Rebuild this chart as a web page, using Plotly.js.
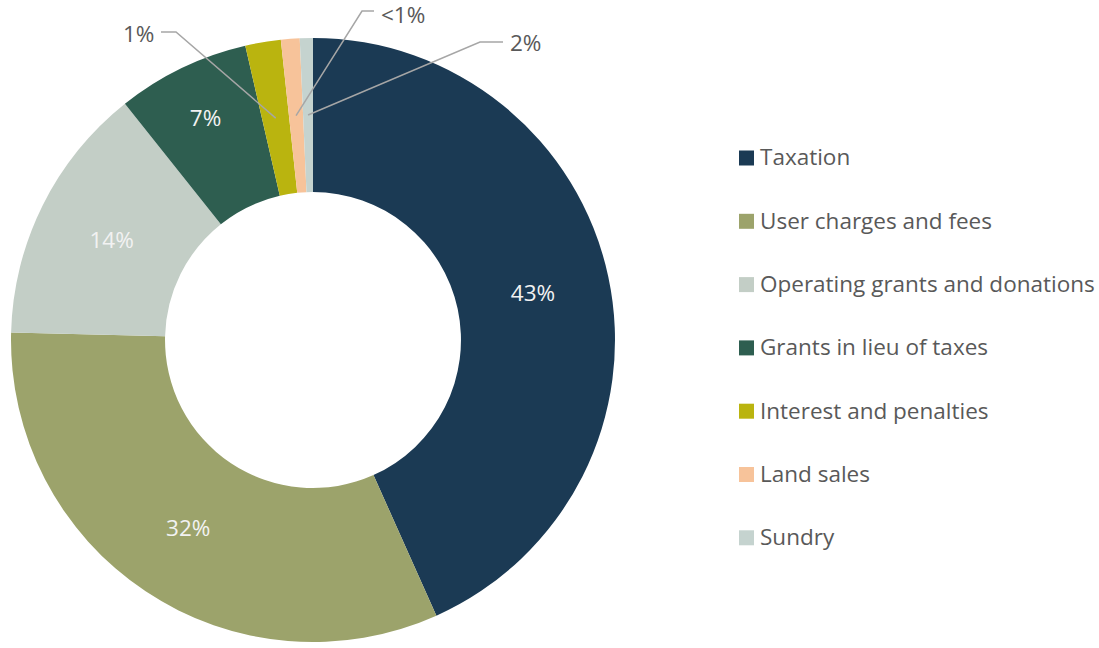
<!DOCTYPE html>
<html>
<head>
<meta charset="utf-8">
<script src="https://cdn.plot.ly/plotly-3.0.1.min.js"></script>
<style>html,body{margin:0;padding:0;background:#fff;}#chart{width:1099px;height:648px;}</style>
</head>
<body>
<div id="chart"></div>
<script>
// ---- data ----
const labels = ['Taxation', 'User charges and fees', 'Operating grants and donations', 'Grants in lieu of taxes', 'Interest and penalties', 'Land sales', 'Sundry'];
const values = [43.3, 32.1, 13.9, 7.1, 1.9, 1.0, 0.7];
const sliceText = ['43%', '32%', '14%', '7%', '1%', '<1%', '2%'];
const colors = ['#1b3a54', '#9ca36b', '#c3cec6', '#2e5e50', '#bab40f', '#f7c39a', '#c5d3cf'];

// ---- layout constants (pixels) ----
const W = 1099, H = 648;
const cx = 313, cy = 340, R = 302, holeFrac = 0.49;
const px = x => x / W;
const py = y => 1 - y / H;
const textFont = 'Open Sans, sans-serif';
const greyText = '#595959';
const fs = 22.5;

// callout placement for small slices: label position and elbow of leader line
const callouts = {
  4: {lx: 156, ly: 33, anchor: 'right', ex: 176, ey: 32, sx: 161},
  5: {lx: 379, ly: 15, anchor: 'left', ex: 362, ey: 11, sx: 374},
  6: {lx: 508, ly: 43, anchor: 'left', ex: 480, ey: 42, sx: 503}
};

const total = values.reduce((a, b) => a + b, 0);
const insideText = values.map((v, i) => callouts[i] ? '' : sliceText[i]);

const annotations = [];
const shapes = [];

// callouts computed from slice geometry
let cum = 0;
values.forEach((v, i) => {
  const mid = (cum + v / 2) / total;
  cum += v;
  const c = callouts[i];
  if (!c) return;
  const ang = mid * 2 * Math.PI; // clockwise from 12 o'clock
  const r = R * (1 + holeFrac) / 2;
  const ax = cx + r * Math.sin(ang);
  const ay = cy - r * Math.cos(ang);
  shapes.push({
    type: 'path', xref: 'paper', yref: 'paper',
    path: `M ${px(c.sx)},${py(c.ey)} L ${px(c.ex)},${py(c.ey)} L ${px(ax)},${py(ay)}`,
    line: {color: '#a6a6a6', width: 1.5}
  });
  annotations.push({
    xref: 'paper', yref: 'paper', x: px(c.lx), y: py(c.ly),
    xanchor: c.anchor, yanchor: 'middle', showarrow: false,
    text: sliceText[i], font: {family: textFont, size: fs, color: greyText}
  });
});

// custom legend
const legX = 739, legY0 = 157, legStep = 63.3, sq = 15;
labels.forEach((lab, i) => {
  const y = legY0 + i * legStep;
  shapes.push({
    type: 'rect', xref: 'paper', yref: 'paper',
    x0: px(legX), x1: px(legX + sq), y0: py(y - sq / 2 + 1), y1: py(y + sq / 2 + 1),
    fillcolor: colors[i], line: {width: 0}
  });
  annotations.push({
    xref: 'paper', yref: 'paper', x: px(legX + 19), y: py(y),
    xanchor: 'left', yanchor: 'middle', showarrow: false,
    text: lab, font: {family: textFont, size: fs, color: greyText}
  });
});

const trace = {
  type: 'pie',
  labels: labels,
  values: values,
  text: insideText,
  textinfo: 'text',
  textposition: 'inside',
  insidetextorientation: 'horizontal',
  insidetextfont: {family: textFont, size: fs, color: '#f2f2f2'},
  hole: holeFrac,
  sort: false,
  direction: 'clockwise',
  rotation: 0,
  marker: {colors: colors, line: {width: 0}},
  domain: {x: [px(cx - R), px(cx + R)], y: [py(cy + R), py(cy - R)]},
  showlegend: false,
  hoverinfo: 'label+percent'
};

const layout = {
  width: W, height: H,
  margin: {l: 0, r: 0, t: 0, b: 0},
  paper_bgcolor: '#ffffff',
  showlegend: false,
  annotations: annotations,
  shapes: shapes,
  font: {family: textFont}
};

Plotly.newPlot('chart', [trace], layout, {displayModeBar: false, staticPlot: true});
</script>
</body>
</html>
